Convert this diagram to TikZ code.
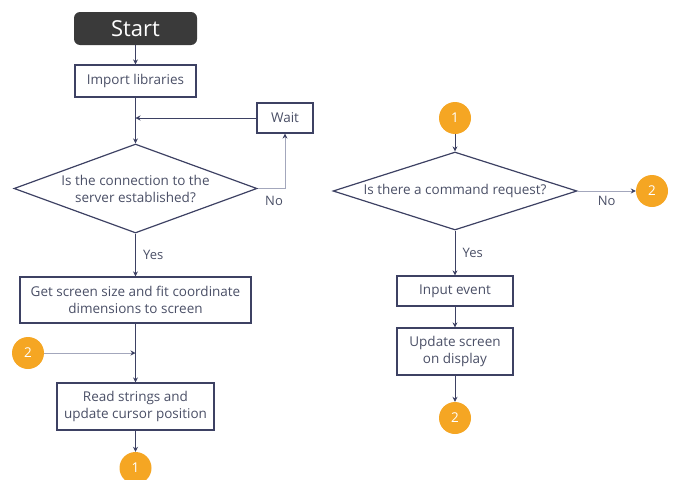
\documentclass[tikz,border=0pt]{standalone}
\usepackage{fontspec}
\setmainfont{Open Sans}
\usetikzlibrary{shapes.geometric,arrows.meta}
\definecolor{linecol}{HTML}{3D4163}
\definecolor{lightcol}{HTML}{A3A7BC}
\definecolor{txtcol}{HTML}{4A4F66}
\definecolor{startcol}{HTML}{3A3A3A}
\definecolor{conncol}{HTML}{F5A623}
\begin{document}
\begin{tikzpicture}[x=1pt,y=-1pt,
  font=\fontsize{13.5}{17}\selectfont, text=txtcol,
  box/.style={draw=linecol,line width=1.2pt,align=center,inner sep=0pt},
  decision/.style={diamond,draw=linecol,line width=1.2pt,align=center,inner sep=0pt},
  connector/.style={circle,fill=conncol,text=white,minimum size=32pt,inner sep=0pt},
  flow/.style={draw=linecol,line width=0.8pt,-{Stealth[length=5pt,width=5pt]}},
  flowlight/.style={draw=lightcol,line width=0.8pt,-{Stealth[length=5pt,width=5pt,color=linecol]}},
  lbl/.style={font=\fontsize{13}{16}\selectfont}]
\useasboundingbox (0,0) rectangle (676,479);
\node[fill=startcol,rounded corners=6pt,text=white,minimum width=123pt,minimum height=33pt,
  font=\fontsize{22}{24}\selectfont] (start) at (135.5,28.5) {Start};
\node[box,minimum width=121pt,minimum height=32pt] (import) at (135.5,81) {Import libraries};
\node[box,minimum width=56pt,minimum height=30pt] (wait) at (285,118) {Wait};
\node[decision,aspect=2.73,minimum width=243pt,minimum height=89pt] (conn) at (135.5,188.5) {Is the connection to the\\server established?};
\node[box,minimum width=231pt,minimum height=46pt] (screen) at (135.5,300) {Get screen size and fit coordinate\\dimensions to screen};
\node[connector] (twoa) at (28,353) {2};
\node[box,minimum width=157pt,minimum height=47pt] (read) at (135.5,406.5) {Read strings and\\update cursor position};
\node[connector] (onea) at (135.5,468) {1};
\node[connector] (oneb) at (455,118) {1};
\node[decision,aspect=3.13,minimum width=244pt,minimum height=78pt] (cmd) at (455,191) {Is there a command request?};
\node[connector] (twob) at (652,191) {2};
\node[box,minimum width=116pt,minimum height=30pt] (input) at (455,291) {Input event};
\node[box,minimum width=116pt,minimum height=47pt] (update) at (455,351.5) {Update screen\\on display};
\node[connector] (twoc) at (455,418) {2};
\coordinate (merge) at (135.5,118);
\coordinate (join) at (135.5,353);
\draw[flow] (start) -- (import);
\draw[draw=linecol,line width=0.8pt] (import) -- (merge);
\draw[flow] (merge) -- (conn);
\draw[flow] (wait) -- (merge);
\draw[flowlight] (conn.east) -| (wait) node[lbl,pos=0.3,below=4pt] {No};
\draw[flow] (conn) -- (screen) node[lbl,midway,right=4pt] {Yes};
\draw[flow] (screen) -- (read);
\draw[flowlight] (twoa) -- (join);
\draw[flow] (read) -- (onea);
\draw[flow] (oneb) -- (cmd);
\draw[flowlight] (cmd) -- (twob) node[lbl,midway,below=1pt] {No};
\draw[flow] (cmd) -- (input) node[lbl,midway,right=4pt] {Yes};
\draw[flow] (input) -- (update);
\draw[flow] (update) -- (twoc);
\end{tikzpicture}
\end{document}
